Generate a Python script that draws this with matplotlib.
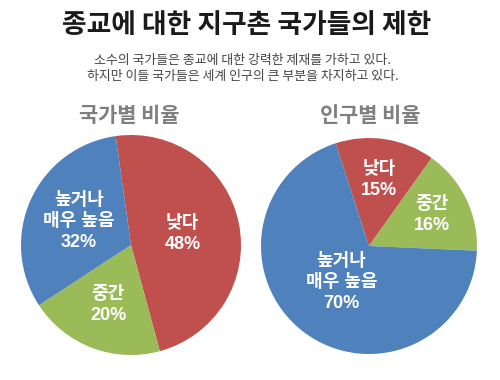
import matplotlib
matplotlib.use("Agg")
import matplotlib.pyplot as plt
import numpy as np

plt.rcParams['font.family'] = ['Noto Sans CJK KR', 'DejaVu Sans']

title = "종교에 대한 지구촌 국가들의 제한"
subtitle = "소수의 국가들은 종교에 대한 강력한 제재를 가하고 있다.\n하지만 이들 국가들은 세계 인구의 큰 부분을 차지하고 있다."

categories = ["낮다", "중간", "높거나\n매우 높음"]
colors = ["#c0504d", "#9bbb59", "#4f81bd"]

left_title = "국가별 비율"
left_values = [48, 20, 32]

right_title = "인구별 비율"
right_values = [15, 16, 70]

fig = plt.figure(figsize=(5, 3.8), dpi=100)

fig.text(0.493, 1 - 25 / 380, title, ha="center", va="center",
         fontsize=19.3, fontweight="bold", color="#1a1a1a")
fig.text(0.486, 1 - 68.5 / 380, subtitle, ha="center", va="center",
         fontsize=9.3, color="#444444", linespacing=1.35)
fig.text(129 / 500, 1 - 115 / 380, left_title, ha="center", va="center",
         fontsize=15, fontweight="bold", color="#7f7f7f")
fig.text(370 / 500, 1 - 115 / 380, right_title, ha="center", va="center",
         fontsize=15, fontweight="bold", color="#7f7f7f")


def draw_pie(rect, values, start, dists):
    ax = fig.add_axes(rect)
    wedges, _ = ax.pie(values, colors=colors, startangle=start,
                       counterclock=False, radius=1,
                       wedgeprops=dict(linewidth=0))
    ax.set_xlim(-1, 1)
    ax.set_ylim(-1, 1)
    ax.set_aspect("equal")
    ax.axis("off")
    for w, cat, v, d in zip(wedges, categories, values, dists):
        mid = np.deg2rad((w.theta1 + w.theta2) / 2)
        ax.text(d * np.cos(mid), d * np.sin(mid), f"{cat}\n{v}%",
                ha="center", va="center", multialignment="center",
                fontsize=13, fontweight="bold", color="white",
                linespacing=1.3,
                family=['Liberation Sans', 'Noto Sans CJK KR'])
    return ax


draw_pie([21 / 500, 25 / 380, 220 / 500, 220 / 380], left_values, 98,
         [0.48, 0.58, 0.52])
draw_pie([261 / 500, 26 / 380, 216 / 500, 216 / 380], right_values, 108,
         [0.62, 0.65, 0.42])

fig.savefig("out.png", dpi=100, facecolor="white")
